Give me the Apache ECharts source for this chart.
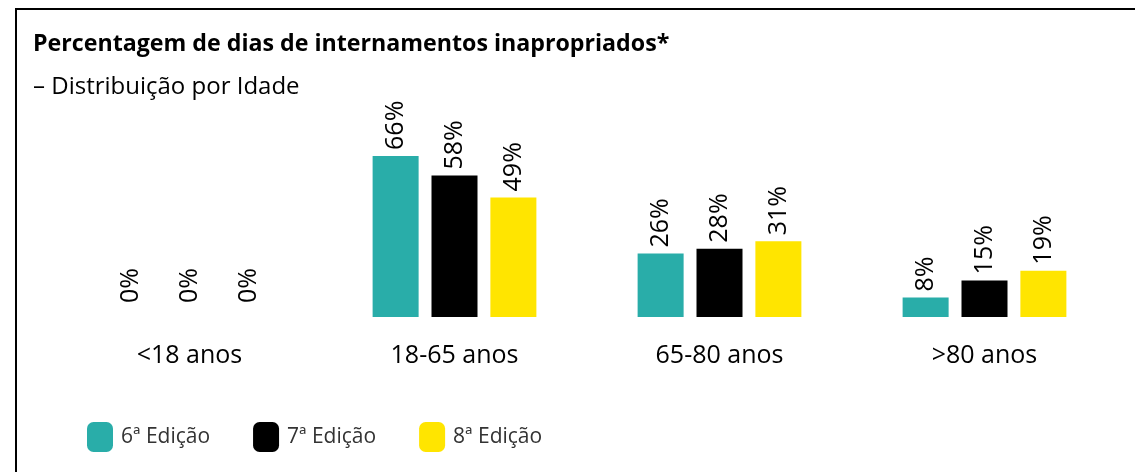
<!DOCTYPE html>
<html>
<head>
<meta charset="utf-8">
<script src="https://cdn.jsdelivr.net/npm/echarts@6/dist/echarts.min.js"></script>
<style>html,body{margin:0;padding:0;background:#fff;}#c{width:1135px;height:472px;}</style>
</head>
<body>
<div id="c"></div>
<script>
const categories = ['<18 anos', '18-65 anos', '65-80 anos', '>80 anos'];
const seriesNames = ['6ª Edição', '7ª Edição', '8ª Edição'];
const ed6 = [0, 66, 26, 8];
const ed7 = [0, 58, 28, 15];
const ed8 = [0, 49, 31, 19];
const colors = ['#29ADA9', '#000000', '#FFE500'];

const chart = echarts.init(document.getElementById('c'));
const FONT = '"Open Sans", "Noto Sans", sans-serif';
function mk(name, vals, i) {
  return {
    name: name,
    type: 'bar',
    barWidth: 46,
    barGap: '28%',
    itemStyle: { color: colors[i] },
    label: {
      show: true, position: 'top', rotate: 90, align: 'left', verticalAlign: 'middle',
      distance: 6, fontFamily: FONT, fontSize: 25, color: '#000',
      formatter: p => p.value + '%'
    },
    data: vals.map(v => v === 0 ? { value: v, label: { distance: 14 } } : v)
  };
}
chart.setOption({
  animation: false,
  backgroundColor: '#fff',
  title: [
    { text: 'Percentagem de dias de internamentos inapropriados*', left: 28, top: 28,
      textStyle: { fontFamily: FONT, fontWeight: 'bold', fontSize: 23.2, color: '#000' } },
    { text: '– Distribuição por Idade', left: 28, top: 70,
      textStyle: { fontFamily: FONT, fontWeight: 'normal', fontSize: 24, color: '#000' } }
  ],
  legend: {
    left: 82, top: 417, itemWidth: 26, itemHeight: 30, itemGap: 43, icon: 'roundRect',
    itemStyle: { borderWidth: 0 },
    textStyle: { fontFamily: FONT, fontSize: 21, color: '#333', padding: [0, 0, 0, 3] },
    data: seriesNames
  },
  grid: { left: 57, right: 18, top: 73, bottom: 155 },
  xAxis: {
    type: 'category', data: categories,
    axisLine: { show: false }, axisTick: { show: false },
    axisLabel: { fontFamily: FONT, fontSize: 25, color: '#000', margin: 26 }
  },
  yAxis: { type: 'value', min: 0, max: 100, show: false, splitLine: { show: false } },
  series: [mk(seriesNames[0], ed6, 0), mk(seriesNames[1], ed7, 1), mk(seriesNames[2], ed8, 2)],
  graphic: [
    { type: 'polyline', shape: { points: [[16, 472], [16, 9], [1135, 9]] },
      style: { stroke: '#000', lineWidth: 2, fill: null }, silent: true }
  ]
});
</script>
</body>
</html>
